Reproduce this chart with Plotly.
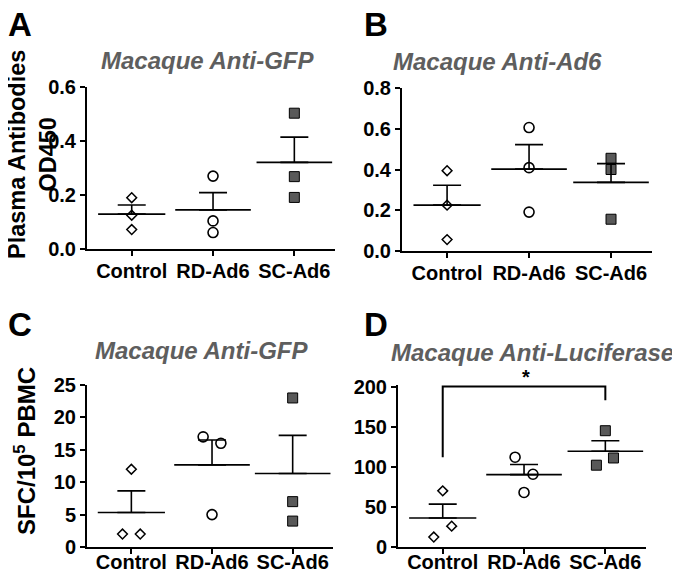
import numpy as np
import plotly.graph_objects as go

categories = ["Control", "RD-Ad6", "SC-Ad6"]

# A: plasma antibodies anti-GFP (OD450)
a_control = [0.19, 0.125, 0.072]
a_rd = [0.27, 0.104, 0.061]
a_sc = [0.503, 0.268, 0.191]

# B: plasma antibodies anti-Ad6 (OD450)
b_control = [0.394, 0.225, 0.056]
b_rd = [0.606, 0.409, 0.191]
b_sc = [0.455, 0.40, 0.156]

# C: anti-GFP ELISpot (SFC/10^5 PBMC)
c_control = [12, 2, 2]
c_rd = [17, 16, 5]
c_sc = [23, 7, 4]

# D: anti-luciferase ELISpot (SFC/10^5 PBMC)
d_control = [70, 26, 12.4]
d_rd = [112, 90.7, 68]
d_sc = [145, 111, 102]

FONT = "Arial, Liberation Sans, sans-serif"
PAGE_W, PAGE_H = 680, 573
OFF = 8  # page body margin around the plot div
W, H = PAGE_W - OFF, PAGE_H - OFF


def px(x):
    return (x - OFF) / W


def py(y):
    return 1 - (y - OFF) / H


# horizontal spread of overlapping points (category units)
SPREAD = {
    "C": [[0, -0.11, 0.11], [-0.11, 0.11, 0], [0, 0, 0]],
    "D": [[0, 0.11, -0.11], [-0.11, 0.11, 0], [0, 0.1, -0.11]],
}

MARKERS = [
    dict(symbol="diamond-open", size=7.5, color="black", line=dict(width=1.5, color="black")),
    dict(symbol="circle-open", size=10, color="black", line=dict(width=1.6, color="black")),
    dict(symbol="square", size=10, color="#595959", line=dict(width=1, color="black")),
]
MEAN_WIDTH = [48, 54, 54]

panels = [
    dict(key="A", groups=[a_control, a_rd, a_sc], title="Macaque Anti-GFP",
         yrange=[0, 0.6], dtick=0.2, fmt=".1f", standoff=-2,
         dom_x=(87, 335), dom_y=(87, 249), title_xy=(207, 60), letter_xy=(20, 24)),
    dict(key="B", groups=[b_control, b_rd, b_sc], title="Macaque Anti-Ad6",
         yrange=[0, 0.8], dtick=0.2, fmt=".1f", standoff=-2,
         dom_x=(402, 652), dom_y=(88, 251), title_xy=(497, 62), letter_xy=(376, 24)),
    dict(key="C", groups=[c_control, c_rd, c_sc], title="Macaque Anti-GFP",
         yrange=[0, 25], dtick=5, fmt="d", standoff=-9,
         dom_x=(87, 333), dom_y=(385, 547), title_xy=(202, 350), letter_xy=(20, 324)),
    dict(key="D", groups=[d_control, d_rd, d_sc], title="Macaque Anti-Luciferase",
         yrange=[0, 202], dtick=50, fmt="d", standoff=-9,
         dom_x=(398, 646), dom_y=(385, 547), title_xy=(532, 352), letter_xy=(376, 324)),
]

fig = go.Figure()
annotations = []

for i, p in enumerate(panels):
    n = i + 1
    xa = "x" if n == 1 else f"x{n}"
    ya = "y" if n == 1 else f"y{n}"
    spread = SPREAD.get(p["key"], [[0, 0, 0]] * 3)

    for g, vals in enumerate(p["groups"]):
        vals = np.array(vals, dtype=float)
        mean = vals.mean()
        sem = vals.std(ddof=1) / np.sqrt(len(vals))
        fig.add_trace(go.Scatter(
            x=[g + d for d in spread[g]], y=vals, mode="markers",
            marker=MARKERS[g], xaxis=xa, yaxis=ya, showlegend=False, cliponaxis=False,
        ))
        fig.add_trace(go.Scatter(
            x=[g], y=[mean], mode="markers",
            marker=dict(symbol="line-ew", size=MEAN_WIDTH[g], line=dict(width=1.6, color="black")),
            error_y=dict(type="data", symmetric=False, array=[sem], arrayminus=[0],
                         width=14, thickness=1.6, color="black"),
            xaxis=xa, yaxis=ya, showlegend=False, cliponaxis=False,
        ))

    x0, x1 = p["dom_x"]
    y0, y1 = p["dom_y"]
    axis_common = dict(showline=True, linewidth=2, linecolor="black", ticks="outside",
                       ticklen=5, tickwidth=2, tickcolor="black", showgrid=False,
                       zeroline=False, automargin=False,
                       tickfont=dict(family=FONT, size=20, color="black", weight="bold"))
    fig.update_layout(**{
        ("xaxis" if n == 1 else f"xaxis{n}"): dict(
            domain=[px(x0), px(x1)], anchor=ya, range=[-0.55, 2.5],
            tickvals=[0, 1, 2], ticktext=categories, ticklabelstandoff=p["standoff"],
            **axis_common),
        ("yaxis" if n == 1 else f"yaxis{n}"): dict(
            domain=[py(y1), py(y0)], anchor=xa, range=p["yrange"],
            tick0=0, dtick=p["dtick"], tickformat=p["fmt"], **axis_common),
    })

    tx, ty = p["title_xy"]
    annotations.append(dict(
        x=px(tx), y=py(ty), xref="paper", yref="paper", text=p["title"], showarrow=False,
        xanchor="center", yanchor="middle",
        font=dict(family=FONT, size=24, color="#5e5e5e", weight="bold", style="italic")))
    lx, ly = p["letter_xy"]
    annotations.append(dict(
        x=px(lx), y=py(ly), xref="paper", yref="paper", text=p["key"], showarrow=False,
        xanchor="center", yanchor="middle",
        font=dict(family=FONT, size=33, color="black", weight="bold")))

# y-axis titles
annotations.append(dict(
    x=px(32), y=py(155), xref="paper", yref="paper", text="Plasma Antibodies<br>OD450",
    textangle=-90, showarrow=False, xanchor="center", yanchor="middle",
    font=dict(family=FONT, size=23.5, color="black", weight="bold")))
annotations.append(dict(
    x=px(25), y=py(451), xref="paper", yref="paper", text="SFC/10<sup>5</sup> PBMC",
    textangle=-90, showarrow=False, xanchor="center", yanchor="middle",
    font=dict(family=FONT, size=24, color="black", weight="bold")))

# significance bracket in D: Control vs SC-Ad6
annotations.append(dict(x=px(526), y=py(377), xref="paper", yref="paper", text="*",
                        showarrow=False, xanchor="center", yanchor="middle",
                        font=dict(family=FONT, size=20, color="black", weight="bold")))
fig.add_shape(type="path", xref="x4", yref="y4",
              path="M 0 112 L 0 200 L 2 200 L 2 183",
              line=dict(color="black", width=2))

fig.update_layout(
    width=W, height=H, margin=dict(l=0, r=0, t=0, b=0),
    paper_bgcolor="white", plot_bgcolor="white",
    annotations=annotations,
)

fig.write_html("out.html")
